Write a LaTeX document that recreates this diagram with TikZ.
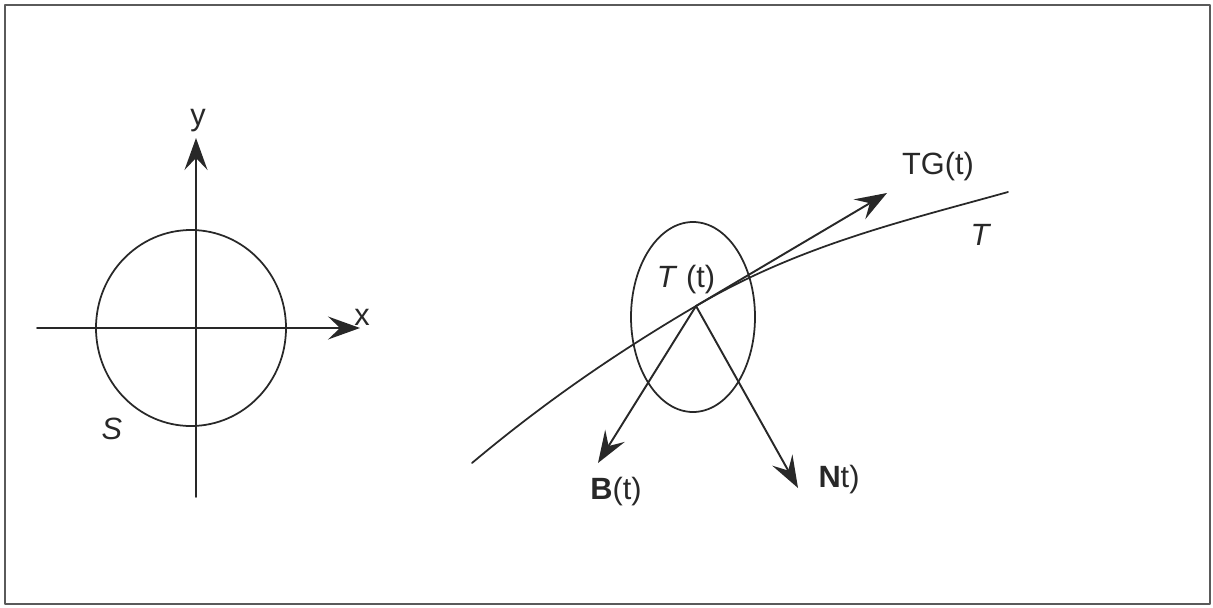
\documentclass[tikz,border=0pt]{standalone}
\usepackage{fontspec}
\setmainfont{Liberation Sans}
\usepackage{tikz}
\usetikzlibrary{arrows.meta}
\definecolor{curveink}{RGB}{40,40,40}
\definecolor{frameink}{RGB}{90,90,90}

\begin{document}
\begin{tikzpicture}[x=0.2mm,y=-0.2mm,line cap=round,line join=round,
  >={Stealth[length=6.4mm,width=4.6mm,inset=2.4mm]},
  lbl/.style={inner sep=0pt,font=\fontsize{17.5}{20}\selectfont,text=curveink}]
 \useasboundingbox (0,0) rectangle (1213,607);
 \draw[frameink,line width=1.1pt] (5,5) rectangle (1210,604);
 % left: circle with axes
 \coordinate (xs) at (37,328);
 \coordinate (xe) at (360,328);
 \coordinate (ys) at (196,497);
 \coordinate (ye) at (196,138);
 \draw[curveink,line width=1pt] (191,328) ellipse [x radius=95,y radius=98];
 \draw[->,curveink,line width=1pt] (xs)--(xe);
 \draw[->,curveink,line width=1pt] (ys)--(ye);
 \node[lbl] (xlab) at (362,317) {x};
 \node[lbl] (ylab) at (198,121) {y};
 \node[lbl] (slab) at (112,429) {\textit{S}};
 % right: curve, ellipse and frame vectors
 \coordinate (p) at (696,306);
 \coordinate (cs) at (472,463);
 \coordinate (ce) at (1008,192);
 \coordinate (tg) at (887,193);
 \coordinate (bt) at (598,463);
 \coordinate (nt) at (798,488);
 \draw[curveink,line width=1pt] (693,317) ellipse [x radius=62,y radius=95];
 \draw[curveink,line width=1pt]
  (cs) .. controls (547,400) and (621,350) .. (p)
       .. controls (800,245) and (904,221) .. (ce);
 \draw[->,curveink,line width=1.1pt] (p)--(tg);
 \draw[->,curveink,line width=1.1pt] (p)--(bt);
 \draw[->,curveink,line width=1.1pt] (p)--(nt);
 \node[lbl] (tglab) at (938,167) {TG(t)};
 \node[lbl] (tlab) at (981,235) {\textit{T}};
 \node[lbl] (ttlab) at (686,280) {\textit{T} (t)};
 \node[lbl] (blab) at (616,492) {\textbf{B}(t)};
 \node[lbl] (nlab) at (839,480) {\textbf{N}t)};
\end{tikzpicture}
\end{document}
